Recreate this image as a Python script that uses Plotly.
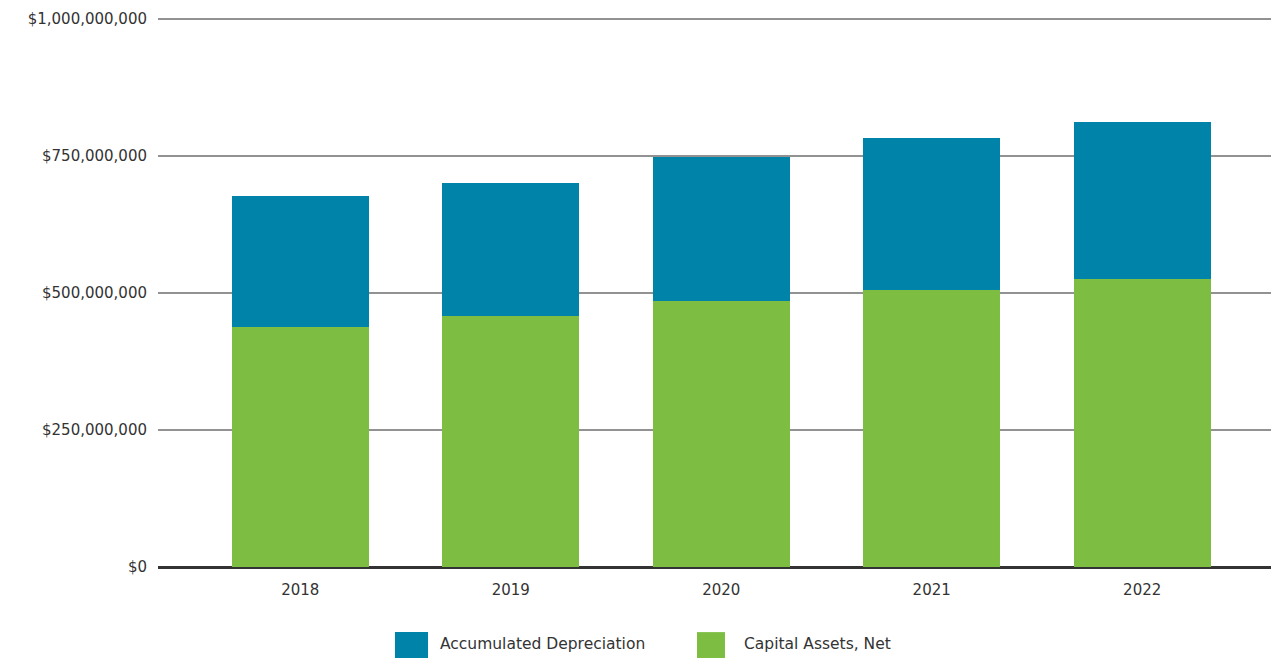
import plotly.graph_objects as go

years = ["2018", "2019", "2020", "2021", "2022"]
capital_net = [438e6, 458e6, 485e6, 505e6, 526e6]
accum_dep = [239e6, 243e6, 263e6, 278e6, 286e6]
tick_vals = [0, 250e6, 500e6, 750e6, 1000e6]
tick_text = ["$0", "$250,000,000", "$500,000,000", "$750,000,000", "$1,000,000,000"]

BLUE = "#0083A9"
GREEN = "#7DBD42"
TXT = "#333333"
FONT = "DejaVu Sans, sans-serif"

fig = go.Figure()
fig.add_trace(go.Bar(x=years, y=capital_net, name="Capital Assets, Net",
                     marker=dict(color=GREEN, line=dict(width=0)), width=0.652))
fig.add_trace(go.Bar(x=years, y=accum_dep, name="Accumulated Depreciation",
                     marker=dict(color=BLUE, line=dict(width=0)), width=0.652))

# manual legend
items = [("Accumulated Depreciation", BLUE, 0.2129, 0.2426, 0.2516),
         ("Capital Assets, Net", GREEN, 0.4843, 0.5094, 0.5247)]
for label, col, x0, x1, xt in items:
    fig.add_shape(type="rect", xref="paper", yref="paper", x0=x0, x1=x1,
                  y0=-0.166, y1=-0.1186, fillcolor=col, line=dict(width=0))
    fig.add_annotation(xref="paper", yref="paper", x=xt, y=-0.1405, text=label,
                       showarrow=False, xanchor="left", yanchor="middle",
                       font=dict(family=FONT, size=15.5, color=TXT))

fig.update_layout(
    barmode="stack",
    width=1271, height=658,
    margin=dict(l=158, r=0, t=18, b=91),
    paper_bgcolor="white", plot_bgcolor="white",
    showlegend=False,
    font=dict(family=FONT, size=15, color=TXT),
    xaxis=dict(type="category", range=[-0.676, 4.612], showgrid=False,
               ticks="", showline=False, ticklabelstandoff=12,
               tickfont=dict(family=FONT, size=15, color=TXT)),
    yaxis=dict(range=[0, 1002e6], tickvals=tick_vals, ticktext=tick_text,
               showgrid=True, gridcolor="#929292", gridwidth=2,
               zeroline=True, zerolinecolor="#333333", zerolinewidth=3,
               showline=False, ticks="", ticklabelstandoff=10,
               tickfont=dict(family=FONT, size=15, color=TXT)),
)

fig.write_html("out.html", config={"displayModeBar": False},
               post_script="document.body.style.margin='0';document.body.style.overflow='hidden';")
